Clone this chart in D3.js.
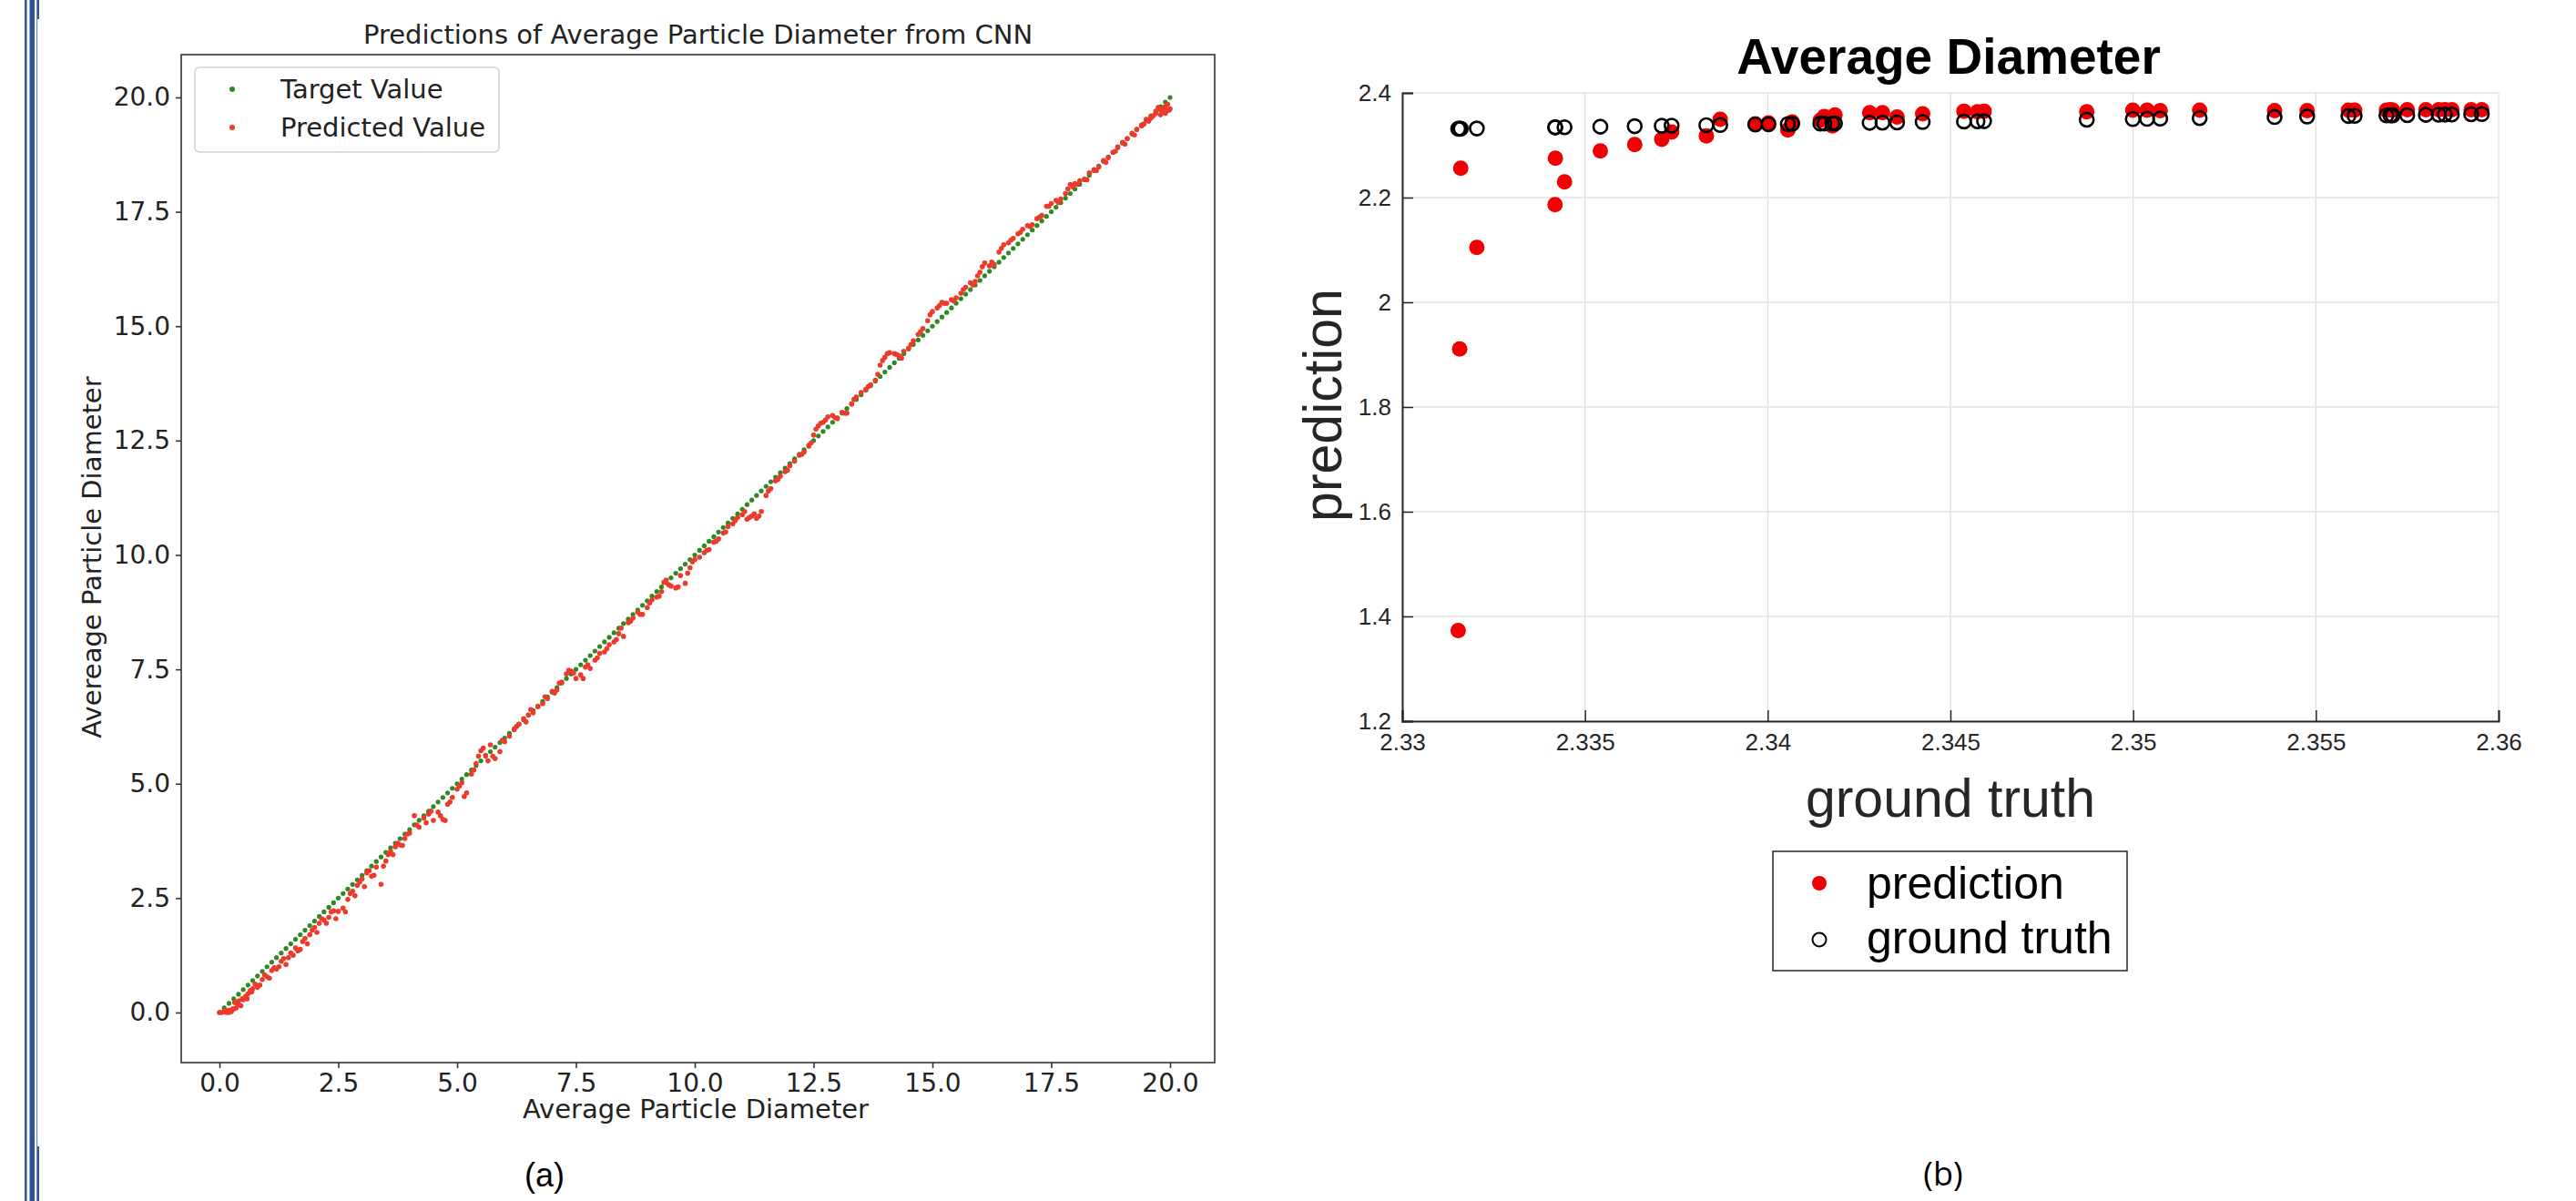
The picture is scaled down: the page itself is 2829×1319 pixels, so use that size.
<!DOCTYPE html>
<html>
<head>
<meta charset="utf-8">
<script src="https://cdn.jsdelivr.net/npm/d3@7/dist/d3.min.js"></script>
<style>
  html, body { margin: 0; padding: 0; background: #ffffff; }
  svg { display: block; }
</style>
</head>
<body>
<svg id="chart" width="2829" height="1319"></svg>
<script>
// ---------------- Panel (a) data ----------------
const targetValues = [
 0.0,0.1,0.2,0.3,0.4,0.5,0.6,0.7,0.8,0.9,1.0,1.1,1.2,1.3,1.4,1.5,1.6,1.7,1.8,1.9,2.0,
 2.1,2.2,2.3,2.4,2.5,2.6,2.7,2.8,2.9,3.0,3.1,3.2,3.3,3.4,3.5,3.6,3.7,3.8,3.9,4.0,
 4.1,4.2,4.3,4.4,4.5,4.6,4.7,4.8,4.9,5.0,5.1,5.2,5.3,5.4,5.5,5.6,5.7,5.8,5.9,6.0,
 6.1,6.2,6.3,6.4,6.5,6.6,6.7,6.8,6.9,7.0,7.1,7.2,7.3,7.4,7.5,7.6,7.7,7.8,7.9,8.0,
 8.1,8.2,8.3,8.4,8.5,8.6,8.7,8.8,8.9,9.0,9.1,9.2,9.3,9.4,9.5,9.6,9.7,9.8,9.9,10.0,
 10.1,10.2,10.3,10.4,10.5,10.6,10.7,10.8,10.9,11.0,11.1,11.2,11.3,11.4,11.5,11.6,11.7,11.8,11.9,12.0,
 12.1,12.2,12.3,12.4,12.5,12.6,12.7,12.8,12.9,13.0,13.1,13.2,13.3,13.4,13.5,13.6,13.7,13.8,13.9,14.0,
 14.1,14.2,14.3,14.4,14.5,14.6,14.7,14.8,14.9,15.0,15.1,15.2,15.3,15.4,15.5,15.6,15.7,15.8,15.9,16.0,
 16.1,16.2,16.3,16.4,16.5,16.6,16.7,16.8,16.9,17.0,17.1,17.2,17.3,17.4,17.5,17.6,17.7,17.8,17.9,18.0,
 18.1,18.2,18.3,18.4,18.5,18.6,18.7,18.8,18.9,19.0,19.1,19.2,19.3,19.4,19.5,19.6,19.7,19.8,19.9,20.0
];
const predictedValues = [
 0.00,0.02,0.05,0.08,0.25,0.28,0.41,0.52,0.55,0.72,0.78,0.92,0.95,1.12,1.05,1.30,1.41,1.38,1.62,1.70,1.86,
 1.95,2.02,2.08,2.22,2.21,2.28,2.47,2.65,2.78,2.92,3.05,2.98,3.18,2.80,3.31,3.52,3.62,3.66,3.80,3.92,
 4.30,4.05,4.25,4.34,4.20,4.38,4.22,4.55,4.70,4.88,5.02,4.80,5.21,5.44,5.72,5.62,5.85,5.55,5.70,5.92,
 6.04,6.18,6.30,6.42,6.50,6.55,6.68,6.75,6.86,7.02,7.05,7.22,7.40,7.46,7.30,7.38,7.55,7.52,7.70,7.85,
 7.88,8.04,8.10,8.28,8.22,8.52,8.62,8.75,8.70,8.85,9.02,9.08,9.20,9.45,9.32,9.28,9.55,9.38,9.72,9.90,
 9.95,10.05,10.12,10.28,10.35,10.48,10.62,10.68,10.82,10.88,10.78,10.85,10.80,10.95,11.30,11.45,11.62,11.72,11.82,11.95,
 12.05,12.18,12.25,12.38,12.62,12.82,12.90,13.02,13.05,12.98,13.12,13.10,13.30,13.45,13.55,13.62,13.72,13.82,14.15,14.32,
 14.42,14.40,14.35,14.45,14.52,14.68,14.82,14.95,15.12,15.32,15.40,15.52,15.50,15.58,15.62,15.72,15.85,15.95,15.98,16.18,
 16.38,16.32,16.35,16.62,16.78,16.82,16.92,17.02,17.12,17.20,17.22,17.35,17.42,17.62,17.68,17.75,17.78,17.90,18.10,18.12,
 18.18,18.22,18.35,18.42,18.48,18.62,18.68,18.80,18.92,19.02,19.10,19.22,19.30,19.38,19.52,19.58,19.65,19.72,19.80,19.75
];
// additional predicted points (denser parts of the red cloud)
const extraPredX = [0.05,0.15,0.25,0.35,0.45,0.12,0.32,0.55,0.65,1.15,1.55,19.75,19.85,19.9,19.95,19.65,19.55,
 0.2,0.28,0.38,0.48,0.58,0.68,0.75,0.85,0.95,1.05,1.25,1.35,1.45,1.65,1.75,1.85,1.95,2.05,
 2.15,2.25,2.35,2.45,2.65,2.75,2.85,2.95,3.05,3.15,3.25,3.45,3.55,3.65,3.75,3.85,3.95,
 4.15,4.35,4.45,4.65,4.75,4.85,5.05,5.15,5.35,5.45,5.55,5.65,5.75,5.95,
 6.25,6.45,6.55,6.85,7.05,7.15,7.35,7.45,7.65,7.75,7.95,
 8.15,8.35,8.45,8.65,8.85,9.05,9.25,9.35,9.45,9.65,9.85,9.95,
 10.25,10.45,10.65,10.85,11.05,11.15,11.25,11.35,11.55,11.75,11.95,
 12.25,12.45,12.55,12.65,12.75,12.95,13.15,13.35,13.65,13.85,13.95,
 14.05,14.25,14.35,14.55,14.75,14.95,15.15,15.25,15.45,15.65,15.85,15.95,
 16.05,16.25,16.45,16.65,16.85,17.05,17.25,17.45,17.65,17.85,17.95,
 18.05,18.25,18.45,18.65,18.85,19.05,19.25,19.45,19.6,19.7,19.8,19.88,19.92,19.98];
const extraPredY = [0.00,0.00,0.02,0.10,0.15,0.05,0.22,0.35,0.48,0.98,1.25,19.78,19.70,19.65,19.85,19.60,19.48,
 0.0,0.08,0.18,0.3,0.3,0.45,0.62,0.6,0.82,0.75,1.0,1.18,1.2,1.35,1.55,1.5,1.8,1.75,
 2.05,1.95,2.2,2.05,2.2,2.6,2.55,2.85,2.75,3.1,3.0,3.2,3.45,3.45,3.7,3.65,3.9,
 4.1,4.15,4.4,4.3,4.2,4.6,4.95,4.72,5.3,5.6,5.78,5.5,5.6,5.95,
 6.25,6.35,6.62,6.9,6.98,7.2,7.48,7.42,7.3,7.6,7.75,
 7.95,8.15,8.4,8.55,8.7,8.95,9.1,9.4,9.35,9.3,9.6,9.85,
 10.1,10.3,10.5,10.75,10.95,10.82,10.9,10.85,11.4,11.65,11.85,
 12.2,12.45,12.75,12.88,12.95,13.0,13.1,13.4,13.68,13.95,14.25,
 14.4,14.38,14.3,14.6,14.88,15.25,15.45,15.5,15.55,15.8,15.9,16.1,
 16.3,16.4,16.7,16.88,17.05,17.18,17.38,17.62,17.7,18.0,18.05,
 18.1,18.2,18.4,18.58,18.82,18.98,19.18,19.42,19.55,19.7,19.62,19.78,19.7,19.72];
const ticksA = [0.0,2.5,5.0,7.5,10.0,12.5,15.0,17.5,20.0];

// ---------------- Panel (b) data ----------------
const groundTruth = [2.33153,2.33157,2.33160,2.33204,2.33418,2.33419,2.33444,2.33542,2.33636,2.3371,2.33737,
 2.33832,2.3387,2.33966,2.34002,2.34055,2.34067,2.34144,2.34155,2.34177,2.34184,2.34279,2.34314,2.34354,
 2.34424,2.34537,2.34574,2.34592,2.34873,2.34999,2.35038,2.35074,2.35182,2.35387,2.35476,2.35589,2.35606,
 2.35693,2.35704,2.3571,2.3575,2.35801,2.35836,2.35853,2.35872,2.35925,2.35954];
const prediction = [1.373,1.9108,2.2562,2.1049,2.1866,2.2753,2.2301,2.2892,2.3014,2.3113,2.3252,
 2.3177,2.3496,2.3409,2.3426,2.3292,2.3443,2.348,2.355,2.337,2.358,2.362,2.362,2.354,
 2.360,2.365,2.364,2.365,2.364,2.367,2.367,2.366,2.367,2.366,2.366,2.367,2.367,
 2.367,2.368,2.367,2.368,2.368,2.368,2.368,2.368,2.368,2.368];
const xTicksB = [2.33,2.335,2.34,2.345,2.35,2.355,2.36];
const yTicksB = [1.2,1.4,1.6,1.8,2,2.2,2.4];

const svg = d3.select("#chart");
svg.append("rect").attr("width",2829).attr("height",1319).attr("fill","#ffffff");

// page border lines at left
const blue = "#2f5597";
svg.append("rect").attr("x",27).attr("y",0).attr("width",2.5).attr("height",1319).attr("fill",blue);
svg.append("rect").attr("x",32.5).attr("y",0).attr("width",5.5).attr("height",1319).attr("fill",blue);
svg.append("rect").attr("x",40).attr("y",0).attr("width",1.2).attr("height",1319).attr("fill","#6f8cc4");
svg.append("rect").attr("x",41).attr("y",0).attr("width",2).attr("height",21).attr("fill",blue);
svg.append("rect").attr("x",41).attr("y",1259).attr("width",2).attr("height",60).attr("fill",blue);

// ================= Panel (a) =================
const fA = "'DejaVu Sans', sans-serif";
const A = {left:199, right:1334, top:60, bottom:1167};
const xA = d3.scaleLinear().domain([-0.805, 20.939]).range([A.left, A.right]);
const yA = d3.scaleLinear().domain([-1.095, 20.935]).range([A.bottom, A.top]);
const gA = svg.append("g");

const xAxisA = d3.axisBottom(xA).tickValues(ticksA).tickFormat(d3.format(".1f")).tickSizeOuter(0).tickSize(6).tickPadding(6);
const yAxisA = d3.axisLeft(yA).tickValues(ticksA).tickFormat(d3.format(".1f")).tickSizeOuter(0).tickSize(6).tickPadding(6);
const gxA = gA.append("g").attr("transform",`translate(0,${A.bottom})`).call(xAxisA);
const gyA = gA.append("g").attr("transform",`translate(${A.left},0)`).call(yAxisA);
[gxA, gyA].forEach(g => {
  g.select(".domain").remove();
  g.selectAll(".tick line").attr("stroke","#333").attr("stroke-width",1.6);
  g.selectAll(".tick text").attr("fill","#222").style("font-family",fA).style("font-size","28px");
});
gxA.selectAll(".tick text").attr("dy","0.71em");
gA.append("rect").attr("x",A.left).attr("y",A.top).attr("width",A.right-A.left).attr("height",A.bottom-A.top)
  .attr("fill","none").attr("stroke","#333").attr("stroke-width",1.6);

// points
gA.append("g").selectAll("circle").data(targetValues).join("circle")
  .attr("cx",d=>xA(d)).attr("cy",d=>yA(d)).attr("r",2.6).attr("fill","#2d8a22");
const predPts = targetValues.map((t,i)=>[t,predictedValues[i]]).concat(extraPredX.map((x,i)=>[x,extraPredY[i]]));
gA.append("g").selectAll("circle").data(predPts).join("circle")
  .attr("cx",d=>xA(d[0])).attr("cy",d=>yA(d[1])).attr("r",2.8).attr("fill","#ec3a2c");

// title & labels
gA.append("text").attr("x",(A.left+A.right)/2).attr("y",38).attr("text-anchor","middle").attr("dominant-baseline","central")
  .style("font-family",fA).style("font-size","29px").attr("fill","#222").text("Predictions of Average Particle Diameter from CNN");
gA.append("text").attr("x",764).attr("y",1218).attr("text-anchor","middle").attr("dominant-baseline","central")
  .style("font-family",fA).style("font-size","29px").attr("fill","#222").text("Average Particle Diameter");
gA.append("text").attr("transform","translate(101,612) rotate(-90)").attr("text-anchor","middle").attr("dominant-baseline","central")
  .style("font-family",fA).style("font-size","29px").attr("fill","#222").text("Avereage Particle Diameter");

// legend
const legA = gA.append("g");
legA.append("rect").attr("x",214).attr("y",74).attr("width",334).attr("height",93).attr("rx",5)
  .attr("fill","#fff").attr("fill-opacity",0.8).attr("stroke","#d0d0d0").attr("stroke-width",1.5);
[["Target Value","#2d8a22",98],["Predicted Value","#ec3a2c",140]].forEach(([t,c,y])=>{
  legA.append("circle").attr("cx",255).attr("cy",y).attr("r",3).attr("fill",c);
  legA.append("text").attr("x",308).attr("y",y).attr("dominant-baseline","central")
    .style("font-family",fA).style("font-size","29px").attr("fill","#222").text(t);
});

svg.append("text").attr("x",598).attr("y",1290).attr("text-anchor","middle").attr("dominant-baseline","central")
  .style("font-family","'Liberation Sans', Arial, sans-serif").style("font-size","36px").attr("fill","#000").text("(a)");

// ================= Panel (b) =================
const fB = "'Liberation Sans', Arial, Helvetica, sans-serif";
const B = {left:1540, right:2744, top:102, bottom:792};
const xB = d3.scaleLinear().domain([2.33, 2.36]).range([B.left, B.right]);
const yB = d3.scaleLinear().domain([1.2, 2.4]).range([B.bottom, B.top]);
const gB = svg.append("g");

gB.append("g").selectAll("line").data(xTicksB).join("line")
  .attr("x1",d=>xB(d)).attr("x2",d=>xB(d)).attr("y1",B.top).attr("y2",B.bottom)
  .attr("stroke","#e3e3e3").attr("stroke-width",1.5);
gB.append("g").selectAll("line").data(yTicksB).join("line")
  .attr("x1",B.left).attr("x2",B.right).attr("y1",d=>yB(d)).attr("y2",d=>yB(d))
  .attr("stroke","#e3e3e3").attr("stroke-width",1.5);

const xAxisB = d3.axisBottom(xB).tickValues(xTicksB).tickFormat(d=>String(+d.toFixed(3))).tickSizeOuter(0).tickSize(-12).tickPadding(14);
const yAxisB = d3.axisLeft(yB).tickValues(yTicksB).tickFormat(d=>String(+d.toFixed(1))).tickSizeOuter(0).tickSize(-12).tickPadding(12);
const gxB = gB.append("g").attr("transform",`translate(0,${B.bottom})`).call(xAxisB);
const gyB = gB.append("g").attr("transform",`translate(${B.left},0)`).call(yAxisB);
[gxB, gyB].forEach(g => {
  g.select(".domain").attr("stroke","#262626").attr("stroke-width",2);
  g.selectAll(".tick line").attr("stroke","#262626").attr("stroke-width",1.5);
  g.selectAll(".tick text").attr("fill","#262626").style("font-family",fB).style("font-size","26px");
});
gxB.selectAll(".tick text").attr("dy","0.71em");

const ptsB = groundTruth.map((g,i)=>[g,prediction[i]]);
gB.append("g").selectAll("circle").data(ptsB).join("circle")
  .attr("cx",d=>xB(d[0])).attr("cy",d=>yB(d[1])).attr("r",8.5).attr("fill","#f00000");
gB.append("g").selectAll("circle").data(groundTruth).join("circle")
  .attr("cx",d=>xB(d)).attr("cy",d=>yB(d)).attr("r",7.5).attr("fill","none").attr("stroke","#000").attr("stroke-width",2.6);

gB.append("text").attr("x",2140).attr("y",62).attr("text-anchor","middle").attr("dominant-baseline","central")
  .style("font-family",fB).style("font-weight","bold").style("font-size","55px").attr("fill","#000").text("Average Diameter");
gB.append("text").attr("x",2142).attr("y",877).attr("text-anchor","middle").attr("dominant-baseline","central")
  .style("font-family",fB).style("font-size","59px").attr("fill","#262626").text("ground truth");
gB.append("text").attr("transform","translate(1453,445) rotate(-90)").attr("text-anchor","middle").attr("dominant-baseline","central")
  .style("font-family",fB).style("font-size","59px").attr("fill","#262626").text("prediction");

const legB = gB.append("g");
legB.append("rect").attr("x",1947).attr("y",935).attr("width",389).attr("height",131)
  .attr("fill","#fff").attr("stroke","#262626").attr("stroke-width",1.5);
legB.append("circle").attr("cx",1998).attr("cy",970).attr("r",8).attr("fill","#f00000");
legB.append("circle").attr("cx",1998).attr("cy",1032).attr("r",7.5).attr("fill","none").attr("stroke","#000").attr("stroke-width",2);
legB.append("text").attr("x",2050).attr("y",970).attr("dominant-baseline","central")
  .style("font-family",fB).style("font-size","50px").attr("fill","#000").text("prediction");
legB.append("text").attr("x",2050).attr("y",1030).attr("dominant-baseline","central")
  .style("font-family",fB).style("font-size","50px").attr("fill","#000").text("ground truth");

svg.append("text").attr("x",2134).attr("y",1288).attr("text-anchor","middle").attr("dominant-baseline","central")
  .style("font-family","'Open Sans', 'Liberation Sans', sans-serif").style("font-size","36px").attr("fill","#000").text("(b)");
</script>
</body>
</html>
